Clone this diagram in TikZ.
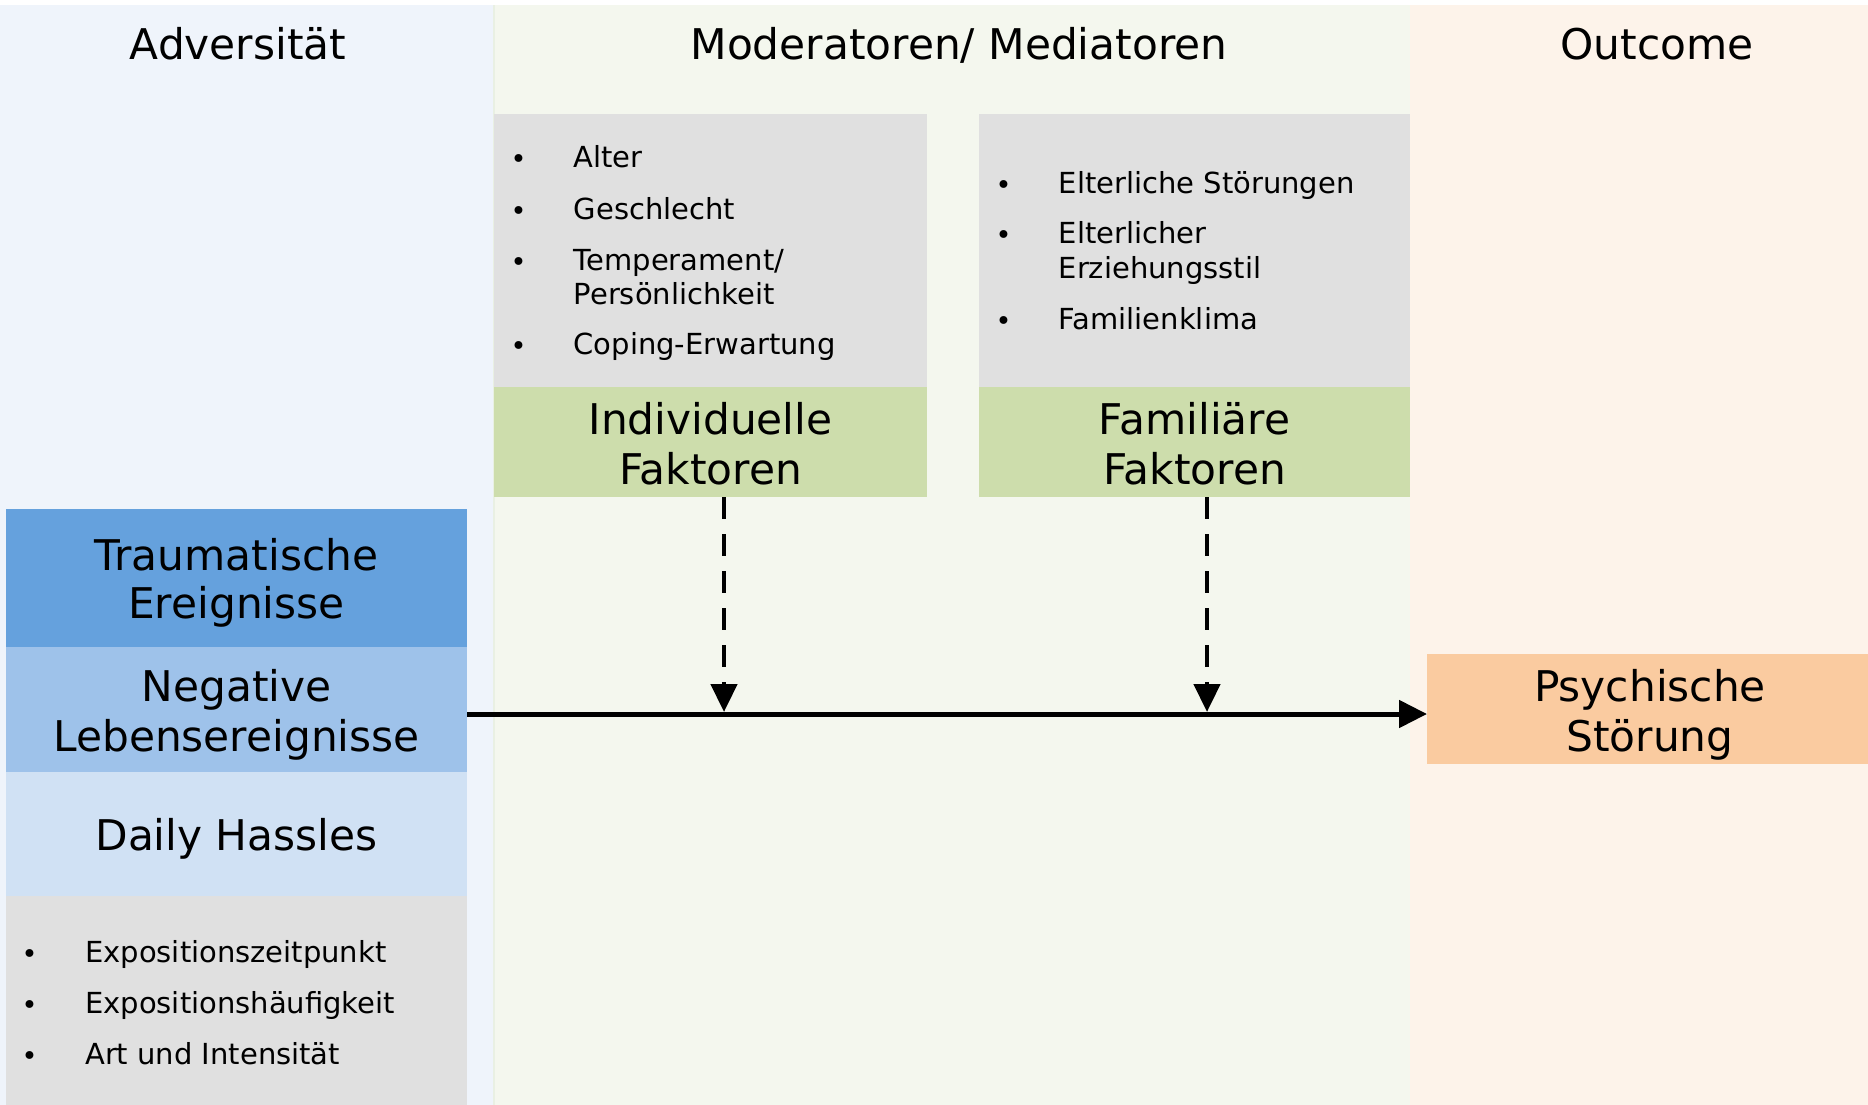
\documentclass[tikz,border=0pt]{standalone}
\usepackage{fontspec}
\setmainfont{DejaVu Sans}
\usetikzlibrary{arrows.meta}

\definecolor{advbg}{HTML}{EFF4FB}
\definecolor{modbg}{HTML}{F4F7EE}
\definecolor{modedge}{HTML}{E9F0E3}
\definecolor{outbg}{HTML}{FDF3EA}
\definecolor{greybox}{HTML}{E0E0E0}
\definecolor{greenbox}{HTML}{CDDDAC}
\definecolor{blueA}{HTML}{65A1DD}
\definecolor{blueB}{HTML}{9EC2EA}
\definecolor{blueC}{HTML}{D0E1F4}
\definecolor{orangebox}{HTML}{FACBA0}

\begin{document}
\begin{tikzpicture}[x=1pt,y=-1pt,
  panelbox/.style={rectangle, inner sep=0pt, outer sep=0pt, draw=none, fill=#1},
  heading/.style={font=\fontsize{42.3}{50}\selectfont, anchor=base, inner sep=0pt},
  boxtext/.style={font=\fontsize{42.3}{50}\selectfont, anchor=base, inner sep=0pt},
  bullettext/.style={font=\fontsize{29}{34}\selectfont, anchor=base west, inner sep=0pt},
  bulletdot/.style={font=\fontsize{27}{34}\selectfont, anchor=base, inner sep=0pt, yshift=-1pt},
  flowarrow/.style={line width=5pt, -{Triangle[length=28pt,width=27pt]}},
  modarrow/.style={line width=4.6pt, dash pattern=on 22pt off 15pt, -{Triangle[length=28pt,width=26pt]}},
]
\useasboundingbox (0,0) rectangle (1868,1105);

% column backgrounds
\fill[white] (0,0) rectangle (1868,1105);
\fill[advbg] (0,5) rectangle (493,1105);
\fill[modbg] (493,5) rectangle (1410,1105);
\fill[outbg] (1410,5) rectangle (1868,1105);
\fill[modedge] (493,5) rectangle (495,1105);

% column headings
\node[heading] (hadv) at (238,59.5) {Adversität};
\node[heading] (hmod) at (959,59.5) {Moderatoren/ Mediatoren};
\node[heading] (hout) at (1657,59.5) {Outcome};

% individual factors
\node[panelbox=greybox, minimum width=433pt, minimum height=273pt] (indlist) at (710.5,250.5) {};
\node[panelbox=greenbox, minimum width=433pt, minimum height=110pt] (ind) at (710.5,442) {};
\node[boxtext] (indA) at (710.5,434.5) {Individuelle};
\node[boxtext] (indB) at (710.5,484) {Faktoren};
\node[bulletdot] (ib1) at (518.5,167) {•};
\node[bullettext] (it1) at (573.5,167) {Alter};
\node[bulletdot] (ib2) at (518.5,219) {•};
\node[bullettext] (it2) at (573.5,219) {Geschlecht};
\node[bulletdot] (ib3) at (518.5,270) {•};
\node[bullettext] (it3) at (573.5,270) {Temperament/};
\node[bullettext] (it3b) at (573.5,304) {Persönlichkeit};
\node[bulletdot] (ib4) at (518.5,354) {•};
\node[bullettext] (it4) at (573.5,354) {Coping-Erwartung};

% family factors
\node[panelbox=greybox, minimum width=431pt, minimum height=273pt] (famlist) at (1194.5,250.5) {};
\node[panelbox=greenbox, minimum width=431pt, minimum height=110pt] (fam) at (1194.5,442) {};
\node[boxtext] (famA) at (1194.5,434.5) {Familiäre};
\node[boxtext] (famB) at (1194.5,484) {Faktoren};
\node[bulletdot] (fb1) at (1003.5,193) {•};
\node[bullettext] (ft1) at (1058.5,193) {Elterliche Störungen};
\node[bulletdot] (fb2) at (1003.5,243) {•};
\node[bullettext] (ft2) at (1058.5,243) {Elterlicher};
\node[bullettext] (ft2b) at (1058.5,278) {Erziehungsstil};
\node[bulletdot] (fb3) at (1003.5,329) {•};
\node[bullettext] (ft3) at (1058.5,329) {Familienklima};

% adversity stack
\node[panelbox=blueA, minimum width=461pt, minimum height=138.3pt] (trauma) at (236.5,577.85) {};
\node[boxtext] (traumaA) at (236.5,570) {Traumatische};
\node[boxtext] (traumaB) at (236.5,618.5) {Ereignisse};
\node[panelbox=blueB, minimum width=461pt, minimum height=125pt] (neg) at (236.5,709.5) {};
\node[boxtext] (negA) at (236.5,701) {Negative};
\node[boxtext] (negB) at (236.5,751) {Lebensereignisse};
\node[panelbox=blueC, minimum width=461pt, minimum height=124pt] (daily) at (236.5,834) {};
\node[boxtext] (dailyA) at (236.5,850) {Daily Hassles};
\node[panelbox=greybox, minimum width=461pt, minimum height=209pt] (expo) at (236.5,1000.5) {};
\node[bulletdot] (eb1) at (29.5,962) {•};
\node[bullettext] (et1) at (85,962) {Expositionszeitpunkt};
\node[bulletdot] (eb2) at (29.5,1013.5) {•};
\node[bullettext] (et2) at (85,1013.5) {Expositionshäufigkeit};
\node[bulletdot] (eb3) at (29.5,1064) {•};
\node[bullettext] (et3) at (85,1064) {Art und Intensität};

% outcome
\node[panelbox=orangebox, minimum width=441pt, minimum height=110pt] (psy) at (1647.5,709) {};
\node[boxtext] (psyA) at (1650,701.5) {Psychische};
\node[boxtext] (psyB) at (1650,751.5) {Störung};

% connectors
\coordinate (path) at (0,714);
\coordinate (m1) at (724,712);
\coordinate (m2) at (1207,712);
\draw[flowarrow] (neg.east |- path) -- (psy.west |- path);
\draw[modarrow] (ind.south -| m1) -- (m1);
\draw[modarrow] (fam.south -| m2) -- (m2);
\end{tikzpicture}
\end{document}
